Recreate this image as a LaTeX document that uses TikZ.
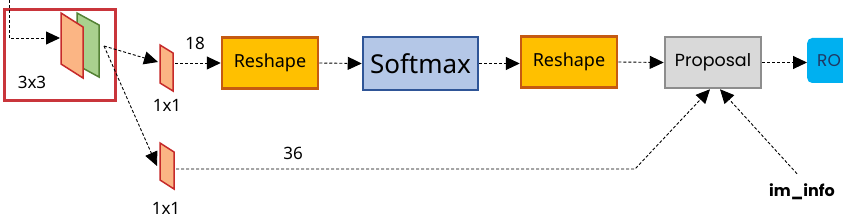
\documentclass[tikz,border=0pt]{standalone}
\usepackage{fontspec}
\setmainfont{Noto Sans}
\newfontfamily\popfont{Poppins}
\usetikzlibrary{arrows.meta,positioning}
\definecolor{Fr}{HTML}{C9353B}
\definecolor{Of}{HTML}{FBB584}
\definecolor{Ob}{HTML}{C62A2A}
\definecolor{Gf}{HTML}{A9D18E}
\definecolor{Gb}{HTML}{548235}
\definecolor{Rf}{HTML}{FFC000}
\definecolor{Rb}{HTML}{C55A11}
\definecolor{Sf}{HTML}{B4C7E7}
\definecolor{Sb}{HTML}{2F5597}
\definecolor{Pf}{HTML}{D9D9D9}
\definecolor{Pb}{HTML}{808080}
\definecolor{Cf}{HTML}{00B0F0}
\definecolor{Ct}{HTML}{1F3864}
\tikzset{
  box/.style={rectangle, draw, line width=2.5pt, inner sep=0pt, minimum height=51pt},
  rsh/.style={box, fill=Rf, draw=Rb, minimum width=96pt, font=\fontsize{18}{18}\selectfont},
  lbl/.style={inner sep=0pt, font=\fontsize{17}{17}\selectfont},
  link/.style={-{Triangle[length=14pt, width=13pt]}, line width=0.9pt, dash pattern=on 3pt off 2pt},
  osheet/.style={fill=Of, draw=Ob, line width=1.5pt, line join=miter},
  gsheet/.style={fill=Gf, draw=Gb, line width=1.5pt, line join=miter},
}
% slanted feature map: style, top-left x, y, width, drop, height
\newcommand{\sheet}[6]{%
  \draw[#1] (#2,#3) -- ++(#4,#5) -- ++(0,#6) -- ++(-#4,-#5) -- cycle;}

\begin{document}
\begin{tikzpicture}[x=1pt, y=-1pt]
  \useasboundingbox (0,0) rectangle (843,219);
  % 3x3 window
  \node[draw=Fr, line width=3pt, minimum width=111pt, minimum height=91pt, inner sep=0pt] (win) at (59.5,55.5) {};
  \sheet{gsheet}{77}{13}{22}{12}{52}
  \sheet{osheet}{61}{13}{22}{14}{51}
  \node[lbl] (l33) at (32,82) {3x3};
  \coordinate (in0) at (9,0);
  \coordinate (o3w) at (60,38);
  \draw[link] (in0) |- (o3w);
  % 1x1 convs
  \sheet{osheet}{160}{45}{13}{8}{38}
  \sheet{osheet}{160}{143}{14}{9}{37}
  \node[lbl] (l11a) at (167,105) {1x1};
  \node[lbl] (l11b) at (166,208) {1x1};
  \coordinate (src) at (104,46);
  \coordinate (c1w) at (158,62);
  \coordinate (c2w) at (157,166);
  \draw[link] (src) -- (c1w);
  \draw[link] (src) -- (c2w);
  \coordinate (c1e) at (175,63);
  \coordinate (c2e) at (176,169);
  % score branch
  \node[rsh] (rs1) at (270,63) {Reshape};
  \node[box, fill=Sf, draw=Sb, minimum width=115pt, minimum height=53pt, font=\fontsize{26}{26}\selectfont] (sm) at (420.5,63.5) {Softmax};
  \node[rsh] (rs2) at (569,62) {Reshape};
  \node[box, fill=Pf, draw=Pb!90, minimum width=96pt, font=\popfont\fontsize{17.5}{17.5}\selectfont] (pr) at (713,62.5) {Proposal};
  \node[fill=Cf, rounded corners=5pt, anchor=west, minimum height=45pt, minimum width=70pt, inner xsep=10pt, text=Ct, font=\popfont\fontsize{17}{17}\selectfont, align=left, text width=60pt] (roi) at (807,60.5) {RO};
  \node[lbl] (l18) at (195,43) {18};
  \draw[link] (c1e) -- (rs1.west);
  \draw[link] (rs1.east) -- (sm.west);
  \draw[link] (sm.east) -- (rs2.west |- sm.east);
  \draw[link] (rs2.east) -- (pr.west);
  \draw[link] (pr.east) -- (roi.west |- pr.east);
  % bbox branch
  \node[lbl] (l36) at (293,153) {36};
  \coordinate (bend) at (635,169);
  \draw[link] (c2e) -- (bend) -- ([xshift=-3pt]pr.south);
  \node[inner sep=0pt, font=\popfont\bfseries\fontsize{16}{16}\selectfont] (imi) at (802,192) {im\_info};
  \draw[link] ([xshift=-5pt, yshift=10pt]imi.north) -- ([xshift=7pt]pr.south);
\end{tikzpicture}
\end{document}
